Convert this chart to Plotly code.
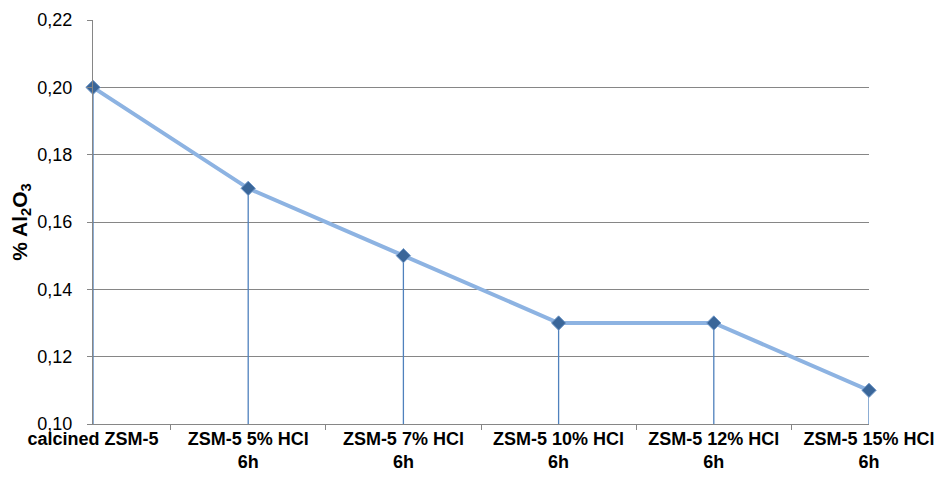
import plotly.graph_objects as go

categories = ["calcined ZSM-5", "ZSM-5 5% HCl<br>6h", "ZSM-5 7% HCl<br>6h",
              "ZSM-5 10% HCl<br>6h", "ZSM-5 12% HCl<br>6h", "ZSM-5 15% HCl<br>6h"]
al2o3 = [0.20, 0.17, 0.15, 0.13, 0.13, 0.11]
y_ticks = [0.10, 0.12, 0.14, 0.16, 0.18, 0.20, 0.22]

y_min, y_max = 0.10, 0.22
xs = list(range(len(categories)))

fig = go.Figure()
fig.add_trace(go.Scatter(
    x=xs, y=al2o3, mode="lines+markers",
    line=dict(color="#8DB3E2", width=4),
    marker=dict(symbol="diamond", size=11, color="#3A6699",
                line=dict(color="#6F97C8", width=1)),
    error_y=dict(type="data", symmetric=False, array=[0] * len(al2o3),
                 arrayminus=[v - y_min for v in al2o3],
                 color="#4F81BD", thickness=1.3, width=0),
    showlegend=False,
    cliponaxis=False,
))

fig.update_layout(
    width=935, height=469,
    margin=dict(l=85, r=74, t=12, b=53, autoexpand=False),
    paper_bgcolor="white", plot_bgcolor="white",
    separators=",.",
    font=dict(family="Liberation Sans, Arial, sans-serif", color="black"),
    xaxis=dict(
        range=[0, 5], tickmode="array", tickvals=xs,
        ticktext=["<b>" + c + "</b>" for c in categories],
        tickfont=dict(size=18), ticks="", showgrid=False,
        showline=True, linecolor="#868686", linewidth=1.3, zeroline=False,
        ticklabelstandoff=-2, automargin=False,
        minor=dict(tick0=0.5, dtick=1, ticks="outside", ticklen=5,
                   tickcolor="#868686", showgrid=False),
    ),
    yaxis=dict(
        range=[y_min, y_max], tickmode="array", tickvals=y_ticks,
        tickformat=".2f", tickfont=dict(size=18),
        showgrid=True, gridcolor="#868686", gridwidth=1,
        showline=True, linecolor="#868686", linewidth=1.3,
        ticks="outside", ticklen=5, tickcolor="#868686", zeroline=False,
        ticklabelstandoff=11, automargin=False,
        title=dict(text="<b>% Al<sub>2</sub>O<sub>3</sub></b>",
                   font=dict(size=21), standoff=6),
    ),
)

fig.write_html("out.html")
